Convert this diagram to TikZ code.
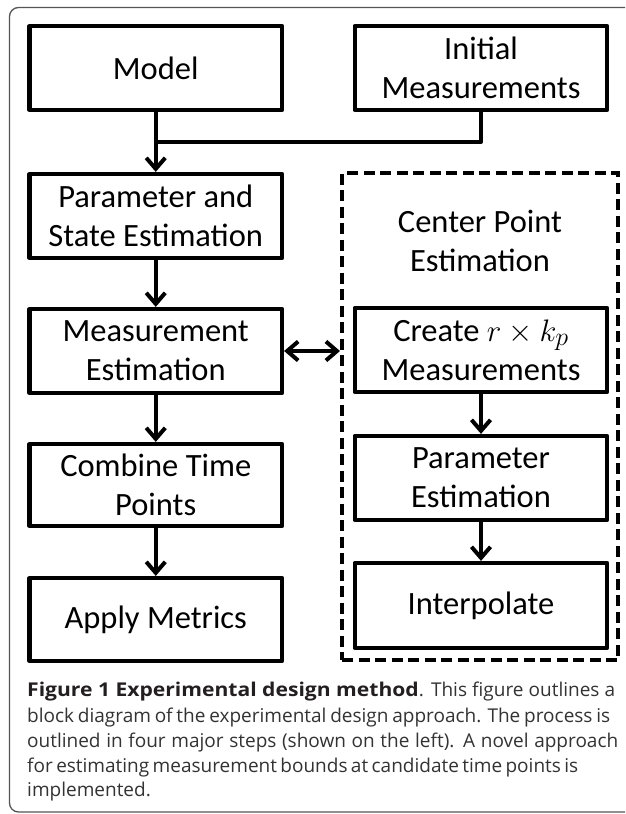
\documentclass[tikz,border=0pt]{standalone}
\usepackage{fontspec}
\usepackage{graphicx}
\setmainfont{Carlito}
\newfontfamily\capfont{Open Sans}
\usetikzlibrary{arrows.meta}
\definecolor{frame}{HTML}{555555}
\definecolor{capbold}{HTML}{231F20}
\definecolor{captext}{HTML}{333333}
\begin{document}
\begin{tikzpicture}[x=1pt,y=-1pt,
  box/.style={draw, line width=4.2pt, minimum width=252.5pt, minimum height=84pt,
    align=center, inner sep=0pt, font=\fontsize{32.5}{39}\selectfont, line join=round},
  plain/.style={align=center, inner sep=0pt, font=\fontsize{32.5}{39}\selectfont},
  flow/.style={line width=4pt, -{Straight Barb[length=11pt,width=19pt]}},
  both/.style={line width=4pt, {Straight Barb[length=11pt,width=19pt]}-{Straight Barb[length=11pt,width=19pt]}},
  group/.style={draw, dashed, dash pattern=on 11pt off 5.5pt, line width=4pt, minimum width=276pt, minimum height=487pt, inner sep=0pt},
  captxt/.style={anchor=base west, inner sep=0pt, font=\capfont\fontsize{19}{25}\selectfont, text=captext}
]
\useasboundingbox (0,0) rectangle (625,814);
\clip (0,0) rectangle (625,814);
\fill[white] (0,0) rectangle (625,814);
\draw[frame, line width=1.3pt, rounded corners=9pt] (660,7.5) -- (9.5,7.5) -- (9.5,812) -- (660,812);

% left column
\node[box] (model) at (155.75,68) {Model};
\node[box] (init) at (481,68) {Initial\\Measurements};
\node[box] (pse) at (155.75,216) {Parameter and\\State Estimation};
\node[box] (meas) at (155.75,351) {Measurement\\Estimation};
\node[box, minimum height=82pt] (comb) at (155.75,485) {Combine Time\\Points};
\node[box, minimum height=83pt] (apply) at (155.75,619.5) {Apply Metrics};

% right group
\node[group] (grp) at (480,416.5) {};
\node[plain] (cpe) at (480,241) {Center Point\\Estimation};
\node[box] (create) at (481,350) {Create \scalebox{1.25}{$r\times k_p$}\\Measurements};
\node[box] (pest) at (481,478) {Parameter\\Estimation};
\node[box, minimum height=85pt] (interp) at (481,605.5) {Interpolate};

% connectors
\coordinate (join) at (model.south |- 0,142);
\draw[line width=4pt, line join=round] (init.south) |- (join);
\draw[flow] (model.south) -- (pse.north);
\draw[flow] (pse.south) -- (meas.north);
\draw[flow] (meas.south) -- (comb.north);
\draw[flow] (comb.south) -- (apply.north);
\draw[both] (meas.east) -- (grp.west |- meas.east);
\draw[flow] (create.south) -- (pest.north);
\draw[flow] (pest.south) -- (interp.north);

% caption
\node[captxt] (cap1) at (27,696) {\makebox[588pt][s]{\textcolor{capbold}{\scalebox{1.11}[1]{\bfseries Figure 1 Experimental design method}}. This figure outlines a}};
\node[captxt] (cap2) at (27,722) {\makebox[583pt][s]{block diagram of the experimental design approach. The process is}};
\node[captxt] (cap3) at (27,747) {\makebox[591pt][s]{outlined in four major steps (shown on the left). A novel approach}};
\node[captxt] (cap4) at (27,772) {\makebox[551pt][s]{for estimating measurement bounds at candidate time points is}};
\node[captxt] (cap5) at (27,796) {implemented.};
\end{tikzpicture}
\end{document}
